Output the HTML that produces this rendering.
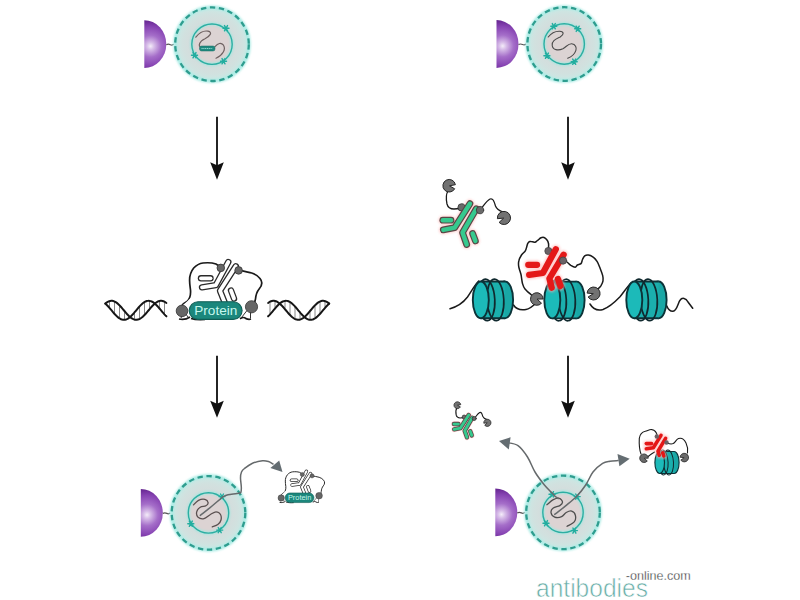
<!DOCTYPE html>
<html><head><meta charset="utf-8">
<style>
html,body{margin:0;padding:0;background:#fff;width:800px;height:600px;overflow:hidden}
svg{display:block}
</style></head><body>
<svg width="800" height="600" viewBox="0 0 800 600">
<defs>
  <radialGradient id="pg" gradientUnits="userSpaceOnUse" cx="-61.5" cy="2" r="26">
    <stop offset="0" stop-color="#f4ecf9"/>
    <stop offset="0.14" stop-color="#d7bde8"/>
    <stop offset="0.42" stop-color="#a56ec9"/>
    <stop offset="0.75" stop-color="#8744b3"/>
    <stop offset="1" stop-color="#662691"/>
  </radialGradient>
  <radialGradient id="ng" gradientUnits="userSpaceOnUse" cx="0" cy="0" r="37">
    <stop offset="0" stop-color="#d8d8d8"/>
    <stop offset="0.5" stop-color="#d5dbdb"/>
    <stop offset="0.8" stop-color="#d1e1df"/>
    <stop offset="1" stop-color="#c9e9e5"/>
  </radialGradient>
  <g id="star">
    <path d="M-3 0H3M-1.5 -2.6L1.5 2.6M-1.5 2.6L1.5 -2.6" stroke="#22ad9f" stroke-width="1.4" stroke-linecap="round"/>
  </g>
  <filter id="glow" x="-20%" y="-20%" width="140%" height="140%"><feGaussianBlur stdDeviation="1.1"/></filter>
  <g id="cellbase">
    <path d="M-67.7 -23.9A22 23.9 0 0 1 -67.7 23.9Z" fill="url(#pg)"/>
    <path d="M-45.7 0.5q2 -1 4 0t3.5 -0.5" stroke="#555" stroke-width="1.2" fill="none"/>
    <circle r="36.8" fill="url(#ng)"/>
    <circle r="37" fill="none" stroke="#a8ebe4" stroke-width="3.6" filter="url(#glow)"/>
    <circle r="36.8" fill="none" stroke="#2e9d8f" stroke-width="2.3" stroke-dasharray="5.4 3.6"/>
    <circle r="20.2" fill="#dcd3d3"/>
    <circle r="20.2" fill="none" stroke="#a6e6df" stroke-width="3.2" filter="url(#glow)"/>
    <circle r="20.2" fill="none" stroke="#2daea2" stroke-width="1.4"/>
  </g>
  
  <g id="nuc">
    <ellipse cx="24.3" cy="0" rx="8" ry="18.4" fill="#19a7a5" stroke="#0c3338" stroke-width="1.9"/>
    <rect x="0" y="-18.4" width="24.3" height="36.8" fill="#1bafad"/>
    <path d="M0 -18.4H24.3M0 18.4H24.3" stroke="#0c3338" stroke-width="1.9"/>
    <ellipse cx="5.6" cy="0" rx="8.4" ry="20.8" transform="rotate(-3 5.6 0)" fill="none" stroke="#10292e" stroke-width="1.7"/>
    <ellipse cx="14.6" cy="0" rx="8.4" ry="20.8" transform="rotate(-3 14.6 0)" fill="none" stroke="#10292e" stroke-width="1.7"/>
    <ellipse cx="0" cy="0" rx="8" ry="18.4" fill="#1cbab9" stroke="#0c3338" stroke-width="1.9"/>
  </g>
  <g id="ab1">
    <!-- generic antibody chains -->
  </g>
</defs>

<!-- ===== Top-left cell ===== -->
<g transform="translate(212,44.2)">
  <use href="#cellbase"/>
  <use href="#star" transform="translate(14,-16)"/>
  <use href="#star" transform="translate(-17.5,11)"/>
  <use href="#star" transform="translate(11.5,17)"/>
  <path d="M-16.2 -7C-13 -11 -9 -14 -4 -13C1 -12 -2 -8 -7 -5.5C-13 -3 -14 2 -11 3.5M3 2.5C6 -1 9 -2 11.5 1C14 5 11 11 4 14" stroke="#6f6262" stroke-width="1.2" fill="none" stroke-linecap="round"/>
  <rect x="-12.5" y="1.8" width="15.5" height="5" rx="2" fill="#1f8a80" stroke="#176b63" stroke-width="0.5"/>
  <path d="M-10.5 4.3h11" stroke="#8fd8cf" stroke-width="1" stroke-dasharray="1.2 0.6"/>
</g>

<!-- ===== Top-right cell ===== -->
<g transform="translate(564.2,44)">
  <use href="#cellbase"/>
  <use href="#star" transform="translate(-10.4,-17.8)"/>
  <use href="#star" transform="translate(13.5,-15.2)"/>
  <use href="#star" transform="translate(-17.3,11.7)"/>
  <use href="#star" transform="translate(10,17.7)"/>
  <path d="M-16 -7C-13 -11 -9 -13 -4.5 -12.8C0 -12.5 0 -9.5 -4 -7C-9 -4.5 -12.5 -3 -12 1.5C-11.5 6 -6 7 -1.3 4.7C2.5 2.5 4 -0.5 7.5 -0.3C11.5 0 12.5 4 11.7 6.4C10.5 10 7 13 3.5 14.3" stroke="#4a4a4a" stroke-width="1.1" fill="none" stroke-linecap="round"/>
</g>


<!-- ===== Middle-left: DNA + protein ===== -->
<g fill="none" stroke-linecap="round">
  <path d="M109.5 301.9V307.1M114.5 302.3V313.0M119.5 306.1V317.6M124.5 311.9V319.0M134.5 313.2V318.8M139.5 307.3V318.2M144.5 302.9V314.2M149.5 301.7V308.4M159.5 301.8V307.7M164.5 302.5V313.6" stroke="#7a7a7a" stroke-width="0.9"/>
  <path d="M325.0 301.9V307.1M320.0 302.3V313.0M315.0 306.1V317.6M310.0 311.9V319.0M300.0 313.2V318.8M295.0 307.3V318.2M290.0 302.9V314.2M285.0 301.7V308.4M275.0 301.8V307.7M270.0 302.5V313.6" stroke="#7a7a7a" stroke-width="0.9"/>
  <path d="M105.30 303.58 L106.29 302.80 L107.27 302.13 L108.26 301.59 L109.24 301.18 L110.23 300.92 L111.21 300.81 L112.20 300.84 L113.18 301.02 L114.17 301.35 L115.15 301.81 L116.14 302.41 L117.13 303.13 L118.11 303.96 L119.10 304.90 L120.08 305.91 L121.07 307.00 L122.05 308.14 L123.04 309.31 L124.02 310.49 L125.01 311.68 L126.00 312.84 L126.98 313.96 L127.97 315.03 L128.95 316.02 L129.94 316.92 L130.92 317.72 L131.91 318.40 L132.89 318.96 L133.88 319.38 L134.86 319.66 L135.85 319.79 L136.84 319.77 L137.82 319.61 L138.81 319.30 L139.79 318.85 L140.78 318.27 L141.76 317.56 L142.75 316.74 L143.73 315.81 L144.72 314.81 L145.70 313.73 L146.69 312.59 L147.68 311.43 L148.66 310.24 L149.65 309.06 L150.63 307.89 L151.62 306.76 L152.60 305.69 L153.59 304.69 L154.57 303.78 L155.56 302.97 L156.55 302.27 L157.53 301.70 L158.52 301.26 L159.50 300.97 L160.49 300.82 L161.47 300.82 L162.46 300.97 L163.44 301.26 L164.43 301.69 L165.41 302.26 L166.40 302.96" stroke="#161616" stroke-width="2"/>
  <path d="M105.30 303.58 L106.29 304.47 L107.27 305.45 L108.26 306.51 L109.24 307.63 L110.23 308.79 L111.21 309.97 L112.20 311.16 L113.18 312.33 L114.17 313.47 L115.15 314.56 L116.14 315.59 L117.13 316.53 L118.11 317.38 L119.10 318.11 L120.08 318.73 L121.07 319.21 L122.05 319.55 L123.04 319.75 L124.02 319.80 L125.01 319.70 L126.00 319.45 L126.98 319.07 L127.97 318.54 L128.95 317.89 L129.94 317.11 L130.92 316.23 L131.91 315.26 L132.89 314.21 L133.88 313.10 L134.86 311.95 L135.85 310.77 L136.84 309.58 L137.82 308.40 L138.81 307.26 L139.79 306.16 L140.78 305.12 L141.76 304.17 L142.75 303.31 L143.73 302.56 L144.72 301.94 L145.70 301.44 L146.69 301.08 L147.68 300.87 L148.66 300.80 L149.65 300.88 L150.63 301.11 L151.62 301.48 L152.60 301.99 L153.59 302.63 L154.57 303.39 L155.56 304.26 L156.55 305.22 L157.53 306.26 L158.52 307.37 L159.50 308.52 L160.49 309.70 L161.47 310.88 L162.46 312.06 L163.44 313.21 L164.43 314.32 L165.41 315.36 L166.40 316.33" stroke="#161616" stroke-width="2"/>
  <path d="M268.10 302.96 L269.09 302.26 L270.07 301.69 L271.06 301.26 L272.04 300.97 L273.03 300.82 L274.01 300.82 L275.00 300.97 L275.98 301.26 L276.97 301.70 L277.95 302.27 L278.94 302.97 L279.93 303.78 L280.91 304.69 L281.90 305.69 L282.88 306.76 L283.87 307.89 L284.85 309.06 L285.84 310.24 L286.82 311.43 L287.81 312.59 L288.80 313.73 L289.78 314.81 L290.77 315.81 L291.75 316.74 L292.74 317.56 L293.72 318.27 L294.71 318.85 L295.69 319.30 L296.68 319.61 L297.66 319.77 L298.65 319.79 L299.64 319.66 L300.62 319.38 L301.61 318.96 L302.59 318.40 L303.58 317.72 L304.56 316.92 L305.55 316.02 L306.53 315.03 L307.52 313.96 L308.50 312.84 L309.49 311.68 L310.48 310.49 L311.46 309.31 L312.45 308.14 L313.43 307.00 L314.42 305.91 L315.40 304.90 L316.39 303.96 L317.37 303.13 L318.36 302.41 L319.35 301.81 L320.33 301.35 L321.32 301.02 L322.30 300.84 L323.29 300.81 L324.27 300.92 L325.26 301.18 L326.24 301.59 L327.23 302.13 L328.21 302.80 L329.20 303.58" stroke="#161616" stroke-width="2"/>
  <path d="M268.10 316.33 L269.09 315.36 L270.07 314.32 L271.06 313.21 L272.04 312.06 L273.03 310.88 L274.01 309.70 L275.00 308.52 L275.98 307.37 L276.97 306.26 L277.95 305.22 L278.94 304.26 L279.93 303.39 L280.91 302.63 L281.90 301.99 L282.88 301.48 L283.87 301.11 L284.85 300.88 L285.84 300.80 L286.82 300.87 L287.81 301.08 L288.80 301.44 L289.78 301.94 L290.77 302.56 L291.75 303.31 L292.74 304.17 L293.72 305.12 L294.71 306.16 L295.69 307.26 L296.68 308.40 L297.66 309.58 L298.65 310.77 L299.64 311.95 L300.62 313.10 L301.61 314.21 L302.59 315.26 L303.58 316.23 L304.56 317.11 L305.55 317.89 L306.53 318.54 L307.52 319.07 L308.50 319.45 L309.49 319.70 L310.48 319.80 L311.46 319.75 L312.45 319.55 L313.43 319.21 L314.42 318.73 L315.40 318.11 L316.39 317.38 L317.37 316.53 L318.36 315.59 L319.35 314.56 L320.33 313.47 L321.32 312.33 L322.30 311.16 L323.29 309.97 L324.27 308.79 L325.26 307.63 L326.24 306.51 L327.23 305.45 L328.21 304.47 L329.20 303.58" stroke="#161616" stroke-width="2"/>
</g>
<g id="pc">
  <path d="M181.6 306C183 303 185 302.5 187 301.5C190 299 190.8 294 190.5 290C190 286 189.5 283 189.6 280C189.6 276 190.5 272 193.7 268C196 265.5 199 263.5 203 263C207 262.6 212 262.6 216 264C218 265 219.5 266.5 221 268M238.6 270.4C243 270.8 247 272 251.7 273C255 274 258 276 260 278.5C262.5 281.5 262 285.5 259.3 288.7C257 291.5 255.8 295 255.5 299C255.3 302 254 304 251.5 306" fill="#fff" stroke="#1a1a1a" stroke-width="1.7"/>
  <path d="M187 301.5L182 306L181 318L200 319L241 319L251 318L251.5 306L238.6 270.4L221 268Z" fill="#fff" stroke="none"/>
  <path d="M179 319C183 320 187 319 190 317M191 318.5C195 319.8 200 319.8 205 319.5M240 318.8C243 317 244 317 246 318.6C248 319.5 250 319.4 251 319" fill="none" stroke="#1a1a1a" stroke-width="1.7"/>
  <path d="M181 318L183 313M188 317L185 313M241.5 317.5L247 310.5M250.5 318.5L250.5 311.5" stroke="#333" stroke-width="1" fill="none"/>
  <!-- antibody -->
  <g fill="none" stroke-linecap="round" stroke-linejoin="round">
    <g stroke="#2a2a2a" stroke-width="6.4">
      <path d="M228.3 262L215.8 285.2L202 287.3"/>
      <path d="M235.8 266.3L220 290.8L224.5 302"/>
      <path d="M201 278.3H210.5"/>
      <path d="M231 290.5L234 298.5"/>
    </g>
    <g stroke="#fff" stroke-width="3.8">
      <path d="M228.3 262L215.8 285.2L202 287.3"/>
      <path d="M235.8 266.3L220 290.8L224.5 302"/>
      <path d="M201 278.3H210.5"/>
      <path d="M231 290.5L234 298.5"/>
    </g>
  </g>
  <circle cx="220.8" cy="267.9" r="3.8" fill="#666" stroke="#333" stroke-width="0.8"/>
  <circle cx="238.6" cy="270.4" r="3.8" fill="#666" stroke="#333" stroke-width="0.8"/>
  <rect x="189.2" y="301.8" width="52.9" height="17.6" rx="8.8" fill="#1b877c" stroke="#0f5e55" stroke-width="1.1"/>
  <text x="215.8" y="315.2" text-anchor="middle" font-family="Liberation Sans, sans-serif" font-size="13.4" fill="#c4f7ee" textLength="43" lengthAdjust="spacingAndGlyphs">Protein</text>
  <circle cx="182" cy="310.9" r="5.8" fill="#666" stroke="#333" stroke-width="0.8"/>
  <circle cx="251.5" cy="306.8" r="6.1" fill="#666" stroke="#333" stroke-width="0.8"/>
</g>

<!-- ===== Middle-right: nucleosomes ===== -->
<g fill="none" stroke="#1a1a1a" stroke-width="1.5" stroke-linecap="round">
  <path d="M450 308.7C456 307 463 303 467.5 297C471 292 474 286 478.7 281"/>
  <path d="M513.5 305C516 309 520 310.5 526 309.5C530 309 533 306 536 303"/>
  <path d="M590 304C593 309 598 311 603 309.5C610 307 615 302 620 296.8C624 292 627 287 631 283"/>
  <path d="M666.7 305.7C668 309 670 311.5 673 311.3C677 311 678 303 680 300.3C682 297 686 298 688 302L692.7 308.3"/>
  <!-- chromatin loop -->
  <path d="M531.5 295.0C530.4 294.0 526.5 290.9 525.0 289.0C523.5 287.1 523.2 285.9 522.5 283.5C521.8 281.1 521.6 277.2 521.0 274.5C520.4 271.8 519.2 269.2 518.8 267.0C518.4 264.8 518.3 263.0 518.8 261.0C519.2 259.0 520.4 256.7 521.5 255.0C522.6 253.3 524.4 252.2 525.3 250.8C526.2 249.4 526.4 247.8 526.8 246.5C527.2 245.2 527.3 244.1 527.8 243.3C528.3 242.5 529.0 241.8 529.8 241.5C530.6 241.2 531.6 241.7 532.5 241.8C533.4 241.9 534.2 242.5 535.0 242.3C535.8 242.1 536.5 241.2 537.5 240.5C538.5 239.8 539.9 238.3 541.0 237.8C542.1 237.3 543.0 237.1 544.0 237.5C545.0 237.9 546.2 239.0 547.0 240.0C547.8 241.0 548.2 242.2 548.5 243.5C548.8 244.8 548.5 247.2 548.5 248.0" stroke-width="1.5"/>
  <path d="M563.5 260.5C564.0 260.7 565.2 260.7 566.4 261.5C567.6 262.3 569.3 264.4 570.8 265.4C572.3 266.3 574.1 267.3 575.2 267.2C576.3 267.1 576.4 265.6 577.4 265.0C578.4 264.4 580.1 264.5 581.0 263.6C581.9 262.7 581.9 260.8 582.5 259.5C583.1 258.2 583.7 256.6 584.7 255.9C585.7 255.2 586.9 254.9 588.4 255.1C589.9 255.3 592.0 256.2 593.5 257.3C595.0 258.4 596.1 259.9 597.2 261.7C598.3 263.5 599.2 266.0 600.1 268.3C601.0 270.6 602.2 273.6 602.7 275.7C603.2 277.8 603.3 279.1 603.0 280.8C602.7 282.5 601.7 284.5 600.9 285.9C600.1 287.2 598.5 288.4 598.0 288.9" stroke-width="1.5"/>
</g>
<use href="#nuc" transform="translate(480.8,299.9)"/>
<use href="#nuc" transform="translate(552.3,300)"/>
<use href="#nuc" transform="translate(634.3,299.9)"/>
<path d="M537.1 299.1L541.5 303.2A6.3 6.3 0 1 1 543.1 299.0Z" fill="#727272" stroke="#262626" stroke-width="1"/>
<path d="M593.3 293.7L587.1 293.1A6.5 6.5 0 1 1 588.1 297.0Z" fill="#727272" stroke="#262626" stroke-width="1"/>
<!-- red antibody -->
<g fill="none" stroke-linecap="round" stroke-linejoin="round">
  <g stroke="#ffb0b0" stroke-width="9" opacity="0.6" filter="url(#glow)">
    <path d="M555.8 249.2L542.9 273L529.2 274.9"/>
    <path d="M563.6 254.7L549.4 278.5L551.7 287.7"/>
    <path d="M528.3 264.8H537"/>
    <path d="M558 279L560.4 285.9"/>
  </g>
  <circle cx="548.4" cy="251" r="3.6" fill="#6a6266" stroke="#444" stroke-width="0.8"/>
  <g stroke="#e41818" stroke-width="6.3">
    <path d="M555.8 249.2L542.9 273L529.2 274.9"/>
    <path d="M563.6 254.7L549.4 278.5L551.7 287.7"/>
    <path d="M528.3 264.8H537"/>
    <path d="M558 279L560.4 285.9"/>
  </g>
  <circle cx="563.1" cy="260.6" r="3.6" fill="#6a6266" stroke="#444" stroke-width="0.8"/>
</g>

<!-- ===== Green antibody floating ===== -->
<g id="gab">
<g fill="none" stroke="#1a1a1a" style="stroke-width:var(--tw,1.3)" stroke-linecap="round">
  <path d="M448 191C446 194 446 199 447 204C448 208 450 209 454 209L460 208.5"/>
  <path d="M480 210C483 207 486 201 490 199C493 198 494 201 495.5 206C497 210 500 211 503 212"/>
</g>
<path d="M449.5 185.8L454.7 188.8A6.3 6.3 0 1 1 455.4 184.7Z" fill="#727272" stroke="#262626" style="stroke-width:var(--pw,1)"/>
<path d="M503.7 218.1L497.4 218.7A6.6 6.6 0 1 1 499.1 222.4Z" fill="#727272" stroke="#262626" style="stroke-width:var(--pw,1)"/>
<g fill="none" stroke-linecap="round" stroke-linejoin="round">
  <g stroke="#ffc4c4" style="stroke-width:var(--hw,9)" opacity="0.7" filter="url(#glow)">
    <path d="M469.9 203.7L454.7 227.6L443.3 229.9"/>
    <path d="M476.3 208.8L462.5 232.6L466.7 244.5"/>
    <path d="M442.8 220.2H451"/>
    <path d="M472.6 233.5L475.4 240.9"/>
  </g>
  <circle cx="461.6" cy="207.4" r="3.7" fill="#6a6a6a" stroke="#333" style="stroke-width:var(--pw,0.8)"/>
  <g stroke="#5b4646" style="stroke-width:var(--ow,6.8)">
    <path d="M469.9 203.7L454.7 227.6L443.3 229.9"/>
    <path d="M476.3 208.8L462.5 232.6L466.7 244.5"/>
    <path d="M442.8 220.2H451"/>
    <path d="M472.6 233.5L475.4 240.9"/>
  </g>
  <g stroke="#36c98e" style="stroke-width:var(--gw,4.4)">
    <path d="M469.9 203.7L454.7 227.6L443.3 229.9"/>
    <path d="M476.3 208.8L462.5 232.6L466.7 244.5"/>
    <path d="M442.8 220.2H451"/>
    <path d="M472.6 233.5L475.4 240.9"/>
  </g>
  <circle cx="480" cy="210.1" r="3.7" fill="#6a6a6a" stroke="#333" style="stroke-width:var(--pw,0.8)"/>
</g>
</g>

<!-- ===== Arrows ===== -->
<g fill="#111" stroke="#1a1a1a">
  <path d="M217 116.8V167" stroke-width="1.9"/>
  <path d="M210.2 162.2L217 165.2L223.8 162.2L217 179.8Z" stroke="none"/>
  <path d="M568 116.8V167" stroke-width="1.9"/>
  <path d="M561.2 162.2L568 165.2L574.8 162.2L568 179.8Z" stroke="none"/>
  <path d="M217 355.8V405" stroke-width="1.9"/>
  <path d="M210.2 400.8L217 403.8L223.8 400.8L217 417.8Z" stroke="none"/>
  <path d="M568 355.8V405" stroke-width="1.9"/>
  <path d="M561.2 400.8L568 403.8L574.8 400.8L568 417.8Z" stroke="none"/>
</g>

<!-- ===== Bottom-left cell ===== -->
<g transform="translate(208.5,512.9)">
  <use href="#cellbase"/>
  <use href="#star" transform="translate(13.5,-16.3)"/>
  <use href="#star" transform="translate(-17.7,10.8)"/>
  <use href="#star" transform="translate(11.2,17.2)"/>
</g>
<path d="M193.5 504.9C194.3 504.1 196.6 501.2 198.5 500.3C200.4 499.4 203.3 499.0 204.9 499.4C206.5 499.8 207.9 501.5 208.1 502.6C208.3 503.7 207.2 505.0 205.9 505.8C204.6 506.6 201.8 506.2 200.3 507.2C198.8 508.2 197.1 510.1 196.7 511.8C196.3 513.5 196.9 516.1 198.1 517.3C199.3 518.4 201.9 519.2 204.0 518.7C206.1 518.2 208.4 515.6 210.4 514.5C212.4 513.4 214.3 511.8 216.0 511.8C217.7 511.8 219.7 513.1 220.5 514.5C221.3 515.9 221.4 518.3 221.0 520.0C220.6 521.7 219.2 523.5 217.8 524.6C216.4 525.8 213.2 526.5 212.3 526.9" stroke="#5a5050" stroke-width="1.3" fill="none" stroke-linecap="round"/>
<path d="M200.3 515.4C201.8 514.2 206.4 510.6 209.5 508.1C212.6 505.6 216.4 502.2 218.7 500.3C221.0 498.4 221.8 497.5 223.3 496.6C224.9 495.7 225.7 495.3 228.0 494.8C230.3 494.3 234.9 493.8 237.0 493.4C239.1 493.0 240.1 493.6 240.8 492.5C241.5 491.4 241.4 489.1 241.3 486.7C241.2 484.3 240.5 480.4 240.5 478.0C240.5 475.6 240.8 473.6 241.5 472.0C242.2 470.4 242.7 469.9 244.5 468.5C246.3 467.1 249.5 464.6 252.5 463.3C255.5 462.0 259.8 461.1 262.5 460.8C265.2 460.5 266.8 461.0 268.5 461.5C270.2 462.0 272.2 463.6 273.0 464.0" stroke="#666a6c" stroke-width="1.5" fill="none" stroke-linecap="round" stroke-linejoin="round"/>
<path d="M270.4 467.9L279.2 460.4L282.5 472Z" fill="#646d72"/>

<!-- ===== Bottom-right cell ===== -->
<g transform="translate(563,512.4)">
  <use href="#cellbase"/>
  <use href="#star" transform="translate(-11,-18.1)"/>
  <use href="#star" transform="translate(14.2,-15.8)"/>
  <use href="#star" transform="translate(-17,10.8)"/>
  <use href="#star" transform="translate(11.4,18.2)"/>
</g>
<path d="M546.9 504.7C548.0 503.9 551.2 500.8 553.3 499.7C555.4 498.6 557.8 497.9 559.3 498.3C560.8 498.7 562.4 500.8 562.5 502.0C562.6 503.2 561.3 504.6 559.8 505.6C558.3 506.6 554.8 506.9 553.3 508.0C551.8 509.1 550.8 511.0 551.0 512.5C551.2 514.0 552.9 516.4 554.7 517.1C556.5 517.8 559.7 517.5 561.6 516.7C563.5 515.9 564.5 513.4 566.2 512.5C567.9 511.6 570.2 510.6 571.7 511.1C573.2 511.6 575.0 513.5 575.4 515.3C575.8 517.1 575.8 519.9 574.4 521.7C573.0 523.5 568.3 525.5 567.1 526.3" stroke="#4e4e4e" stroke-width="1.3" fill="none" stroke-linecap="round"/>
<path d="M554.7 514.4C556.5 513.0 561.7 509.1 565.3 506.1C568.9 503.1 573.1 500.0 576.5 496.5C579.9 493.0 583.0 489.1 585.7 485.0C588.5 480.9 590.2 475.6 593.0 472.0C595.8 468.4 599.8 465.2 602.6 463.4C605.4 461.6 607.4 461.7 610.0 461.2C612.6 460.7 616.7 460.7 618.0 460.6" stroke="#666a6c" stroke-width="1.5" fill="none" stroke-linecap="round"/>
<path d="M558.5 498.5C558.0 498.2 556.6 497.7 555.6 496.8C554.6 495.9 554.3 495.3 552.4 493.3C550.5 491.3 547.3 488.6 544.4 485.0C541.5 481.4 537.8 476.7 535.0 472.0C532.2 467.3 530.3 461.4 527.5 457.0C524.7 452.6 521.5 448.0 518.0 445.6C514.5 443.2 508.4 443.0 506.5 442.5" stroke="#666a6c" stroke-width="1.5" fill="none" stroke-linecap="round"/>
<path d="M499 441L510.6 437.2L508.8 449.4Z" fill="#646d72"/>
<path d="M629.7 458.8L617.5 454L619.4 466.3Z" fill="#646d72"/>

<!-- ===== small protein complex (bottom-left) ===== -->
<use href="#pc" transform="translate(182,328.5) scale(0.545)"/>
<!-- ===== small green antibody (bottom-right) ===== -->
<use href="#gab" transform="translate(211.7,303.6) scale(0.547)" style="--tw:2;--pw:1.4;--hw:10;--ow:8;--gw:5.2"/>
<!-- ===== small nucleosome complex ===== -->
<g fill="none" stroke="#1a1a1a" stroke-width="1.1" stroke-linecap="round">
  <path d="M641 454C639.5 450 639 444 639.3 438.3C640 434 642 432 645.2 431.3C648 430.5 650 429 652 429.6C655 430 656.5 432 657.4 436"/>
  <path d="M667.3 443C669.5 444 671 444.5 673.2 443.6C675.5 442.5 676 439.5 678.5 438.6C681 437.8 684 439 686 443C687.5 446 688 449 687.5 453"/>
  <path d="M647.5 457C650 455 652 453.5 654.5 452"/>
</g>
<use href="#nuc" transform="translate(659.7,462.5) scale(0.6)"/>
<path d="M644.2 458.3L647.3 461.0A4.3 4.3 0 1 1 648.3 458.2Z" fill="#6a6a6a" stroke="#262626" stroke-width="0.8"/>
<path d="M684.1 457.7L680.0 457.2A4.3 4.3 0 1 1 680.8 460.1Z" fill="#6a6a6a" stroke="#262626" stroke-width="0.8"/>
<g fill="none" stroke-linecap="round" stroke-linejoin="round">
  <g stroke="#ffb8b8" stroke-width="6.4" opacity="0.6" filter="url(#glow)">
    <path d="M661 435.4L653.3 447.7L646.3 448.8"/>
    <path d="M665.6 438.3L658 451.2L659.2 455.3"/>
    <path d="M646.3 443.6H651.6"/>
    <path d="M662.7 452.9L663.8 455.8"/>
  </g>
  <g stroke="#e41616" stroke-width="3.6">
    <path d="M661 435.4L653.3 447.7L646.3 448.8"/>
    <path d="M665.6 438.3L658 451.2L659.2 455.3"/>
    <path d="M646.3 443.6H651.6"/>
    <path d="M662.7 452.9L663.8 455.8"/>
  </g>
  <circle cx="656.8" cy="436.5" r="2.2" fill="#6a6266"/>
  <circle cx="666.5" cy="442.5" r="2.2" fill="#6a6266"/>
</g>

<!-- ===== Logo ===== -->
<text x="536" y="597.2" font-family="Liberation Sans, sans-serif" font-size="25" fill="#68aea8" stroke="#fff" stroke-width="0.6" textLength="112" lengthAdjust="spacingAndGlyphs">antibodies</text>
<text x="625.8" y="579.8" font-family="Liberation Sans, sans-serif" font-size="12.2" fill="#2a2a2a" stroke="#fff" stroke-width="0.3" textLength="65" lengthAdjust="spacingAndGlyphs">-online.com</text>

</svg>
</body></html>
